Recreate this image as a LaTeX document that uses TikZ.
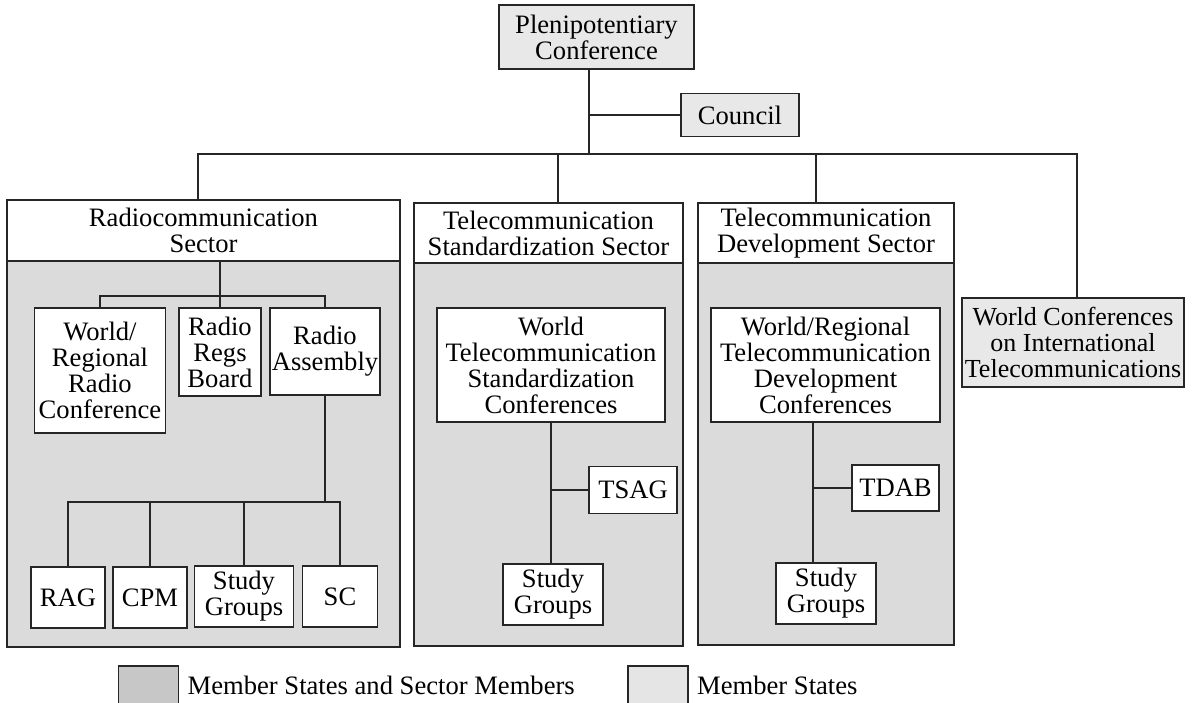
\documentclass[tikz,border=0pt]{standalone}
\usepackage{fontspec}
\setmainfont{Liberation Serif}
\usetikzlibrary{positioning}

\definecolor{sectorgray}{gray}{0.86}
\definecolor{stategray}{gray}{0.91}
\definecolor{keydark}{gray}{0.78}
\definecolor{keylight}{gray}{0.90}
\definecolor{ink}{gray}{0.15}

\tikzset{
  unit/.style={draw=ink, line width=0.8pt, fill=white, align=center, inner sep=1pt,
    font=\fontsize{13.3}{13}\selectfont},
  state/.style={unit, fill=stategray},
  sectorhead/.style={unit},
  sectorbody/.style={draw=ink, line width=0.8pt, fill=sectorgray, inner sep=0pt},
  key/.style={draw=ink, line width=0.8pt, inner sep=0pt, minimum width=30pt, minimum height=19pt},
  keytext/.style={font=\fontsize{13.3}{13}\selectfont, inner sep=2pt},
  link/.style={draw=ink, line width=0.8pt}
}

\begin{document}
\begin{tikzpicture}[x=0.5pt, y=-0.5pt]
\useasboundingbox (0,0) rectangle (1194,702);

% top level
\node[state, minimum width=97.5pt, minimum height=32pt] (plen) at (596.5,37) {Plenipotentiary\\Conference};
\node[state, minimum width=59pt, minimum height=21.5pt] (council) at (740,115) {Council};
\node[state, minimum width=111pt, minimum height=44.5pt, inner xsep=0.5pt, font=\fontsize{13}{13}\selectfont] (wcit) at (1073,342.5) {World Conferences\\on International\\Telecommunications};

% sectors
\node[sectorbody, minimum width=196.5pt, minimum height=193pt] (radiobody) at (203.5,454) {};
\node[sectorhead, minimum width=196.5pt, minimum height=30.5pt] (radiohead) at (203.5,230.5) {Radiocommunication\\Sector};
\node[sectorbody, minimum width=134.5pt, minimum height=191.5pt] (stdbody) at (548.5,454.5) {};
\node[sectorhead, minimum width=134.5pt, minimum height=30pt] (stdhead) at (548.5,233) {Telecommunication\\Standardization Sector};
\node[sectorbody, minimum width=128pt, minimum height=191pt] (devbody) at (826,454) {};
\node[sectorhead, minimum width=128pt, minimum height=30pt] (devhead) at (826,233) {Telecommunication\\Development Sector};

% radiocommunication sector
\node[unit, minimum width=65.5pt, minimum height=62.5pt] (wrrc) at (100,370.5) {World/\\Regional\\Radio\\Conference};
\node[unit, minimum width=41pt, minimum height=44pt] (rrb) at (220,352) {Radio\\Regs\\Board};
\node[unit, minimum width=54.5pt, minimum height=43.5pt] (ra) at (325,351.5) {Radio\\Assembly};
\node[unit, minimum width=37pt, minimum height=30.5pt] (rag) at (68,597.5) {RAG};
\node[unit, minimum width=37pt, minimum height=30.5pt] (cpm) at (150,597.5) {CPM};
\node[unit, minimum width=49.5pt, minimum height=30.5pt] (rsg) at (244,596.5) {Study\\Groups};
\node[unit, minimum width=37.5pt, minimum height=30.5pt] (sc) at (340,596.5) {SC};

% standardization sector
\node[unit, minimum width=114pt, minimum height=57pt] (wtsc) at (551,365) {World\\Telecommunication\\Standardization\\Conferences};
\node[unit, minimum width=44pt, minimum height=23.5pt] (tsag) at (633,490) {TSAG};
\node[unit, minimum width=50pt, minimum height=30.5pt] (ssg) at (553,594.5) {Study\\Groups};

% development sector
\node[unit, minimum width=114.5pt, minimum height=57pt] (wtdc) at (825.5,365) {World/Regional\\Telecommunication\\Development\\Conferences};
\node[unit, minimum width=43.5pt, minimum height=23pt] (tdab) at (895.5,488) {TDAB};
\node[unit, minimum width=50pt, minimum height=30.5pt] (dsg) at (826,593.5) {Study\\Groups};

% legend
\node[key, fill=keydark] (keymsm) at (148.5,685) {};
\node[keytext, right=2pt of keymsm] (keymsmtext) {Member States and Sector Members};
\node[key, fill=keylight] (keyms) at (658,685) {};
\node[keytext, right=2pt of keyms] (keymstext) {Member States};

% connectors
\coordinate (hub) at (589,154);
\coordinate (busR) at (198,154);
\coordinate (busS) at (558,154);
\coordinate (busD) at (816,154);
\coordinate (busW) at (1077,154);
\draw[link] (plen.south -| hub) -- (hub);
\draw[link] (council.west) -- (council.west -| hub);
\draw[link] (busR |- radiohead.north) -- (busR) -- (busW) -- (busW |- wcit.north);
\draw[link] (busS) -- (busS |- stdhead.north);
\draw[link] (busD) -- (busD |- devhead.north);

\coordinate (rbus) at (220,296);
\coordinate (lbus) at (325,502);
\draw[link] (rrb.north |- radiohead.south) -- (rrb.north);
\draw[link] (wrrc.north) |- (rbus) -| (ra.north);
\draw[link] (ra.south) -- (lbus);
\draw[link] (rag.north) |- (lbus) -| (sc.north);
\draw[link] (cpm.north) -- (cpm.north |- lbus);
\draw[link] (rsg.north) -- (rsg.north |- lbus);

\draw[link] (wtsc.south) -- (ssg.north -| wtsc.south);
\draw[link] (tsag.west) -- (tsag.west -| wtsc.south);

\coordinate (dtrunk) at (813,488);
\draw[link] (dtrunk |- wtdc.south) -- (dtrunk |- dsg.north);
\draw[link] (tdab.west) -- (dtrunk);
\end{tikzpicture}
\end{document}
